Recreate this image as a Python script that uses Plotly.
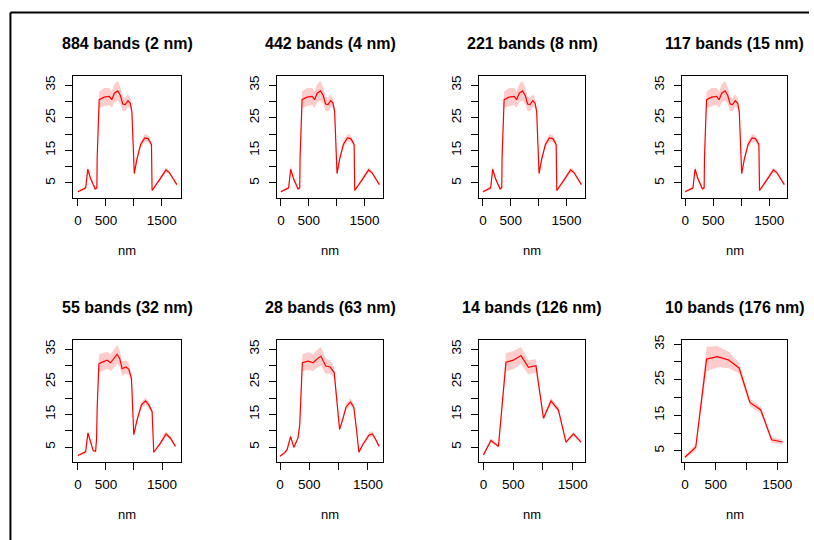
import plotly.graph_objects as go

W, H = 814, 540

titles = ["884 bands (2 nm)", "442 bands (4 nm)", "221 bands (8 nm)", "117 bands (15 nm)",
          "55 bands (32 nm)", "28 bands (63 nm)", "14 bands (126 nm)", "10 bands (176 nm)"]

# Fine-resolution spectra (panels 1-4 look practically identical)
x_fine = [0, 78, 139, 175, 229, 307, 338, 344, 367, 380, 470, 560, 604, 651, 711, 759, 801,
          845, 893, 935, 964, 982, 1007, 1054, 1121, 1193, 1253, 1314, 1325, 1465, 1573, 1633, 1767]
y_fine = [2.3, 3.0, 3.5, 9.2, 6.2, 3.2, 3.5, 12.8, 25.4, 30.5, 31.3, 31.5, 30.5, 32.5, 33.2, 31.8, 29.2,
          29.0, 30.2, 29.5, 26.9, 16.8, 7.9, 12.3, 16.8, 18.8, 18.6, 16.8, 2.7, 6.2, 9.0, 8.2, 4.5]
sd_fine = [0.3, 0.4, 0.5, 1.0, 0.6, 0.4, 0.4, 0.6, 1.5, 2.5, 2.8, 2.6, 2.5, 2.8, 3.0, 2.5, 2.2,
           2.0, 2.0, 1.5, 1.2, 1.0, 0.6, 0.9, 1.0, 1.2, 1.0, 0.8, 0.4, 0.6, 0.8, 0.6, 0.4]

# 55 bands (32 nm)
x_55 = [0, 107, 137, 178, 226, 272, 315, 333, 343, 355, 374, 432, 521, 581, 640, 699, 747, 788,
        859, 907, 955, 979, 996, 1055, 1133, 1205, 1263, 1323, 1353, 1472, 1572, 1651, 1740]
y_55 = [2.4, 3.2, 3.5, 9.3, 6.2, 3.9, 3.7, 7.7, 16.9, 26.0, 30.5, 31.0, 31.6, 30.8, 32.0, 33.4, 32.0, 29.0,
        29.5, 28.8, 26.0, 17.9, 8.8, 13.3, 17.9, 19.1, 17.9, 15.9, 3.4, 6.2, 9.0, 7.7, 5.2]
sd_55 = [0.3, 0.4, 0.5, 0.9, 0.6, 0.4, 0.4, 0.7, 1.5, 2.2, 2.7, 2.8, 2.6, 2.5, 2.8, 2.9, 2.5, 2.2,
         2.0, 1.8, 1.4, 1.0, 0.6, 0.9, 1.0, 1.1, 1.0, 0.8, 0.4, 0.6, 0.8, 0.6, 0.4]

# 28 bands (63 nm)
x_28 = [0, 76, 121, 180, 237, 306, 336, 353, 381, 480, 566, 652, 699, 779, 855, 924, 969, 1016,
        1073, 1125, 1201, 1258, 1305, 1345, 1420, 1519, 1575, 1621, 1690]
y_28 = [2.2, 3.2, 4.2, 8.2, 4.9, 7.7, 11.7, 19.3, 30.8, 31.3, 30.8, 32.3, 32.8, 29.8, 29.5, 27.8, 18.8, 10.4,
        13.7, 17.2, 18.8, 17.2, 10.2, 3.4, 6.0, 8.7, 9.0, 7.7, 5.2]
sd_28 = [0.3, 0.4, 0.5, 0.7, 0.5, 0.6, 0.9, 1.5, 2.6, 2.7, 2.5, 2.8, 2.8, 2.4, 2.0, 1.6, 1.0, 0.6,
         0.8, 1.0, 1.1, 1.0, 0.7, 0.4, 0.6, 0.8, 0.8, 0.6, 0.4]

# 14 bands (126 nm)
x_14 = [0, 126, 252, 378, 504, 630, 756, 882, 1008, 1134, 1260, 1386, 1512, 1638]
y_14 = [2.6, 7.0, 5.2, 31.0, 31.6, 33.0, 29.4, 29.9, 13.8, 19.1, 16.3, 6.5, 9.0, 6.5]
sd_14 = [0.3, 0.6, 0.5, 2.8, 2.8, 2.6, 2.2, 2.0, 0.8, 1.0, 0.9, 0.5, 0.6, 0.5]

# 10 bands (176 nm)
x_10 = [0, 176, 352, 528, 704, 880, 1056, 1232, 1408, 1584]
y_10 = [3.2, 6.0, 30.8, 31.5, 30.6, 28.3, 18.6, 16.5, 8.1, 7.5]
sd_10 = [0.4, 1.0, 3.5, 3.0, 2.3, 1.5, 1.0, 1.0, 0.8, 0.7]

panel_data = [(x_fine, y_fine, sd_fine)] * 4 + [(x_55, y_55, sd_55), (x_28, y_28, sd_28),
                                                  (x_14, y_14, sd_14), (x_10, y_10, sd_10)]

x_ticks = [0, 500, 1000, 1500]
x_ticktext = ["0", "500", "", "1500"]
y_ticks = [5, 10, 15, 20, 25, 30, 35]
y_ticktext = ["5", "", "15", "", "25", "", "35"]

# layout geometry (pixels)
col_px = [(73, 181), (278, 385), (482, 588), (686, 792)]
row_px = [(71, 194), (338, 461)]
x_ranges = [[-80, 1836], [-71, 1835], [-62, 1825], [-58, 1818],
            [-80, 1833], [-52, 1759], [-67, 1700], [-48, 1661]]
y_ranges = [[0.45, 37.7]] * 7 + [[1.9, 36.1]]

FONT = "Liberation Sans, Arial, sans-serif"
fig = go.Figure()
layout = dict(width=W, height=H, margin=dict(l=0, r=0, t=0, b=0),
              paper_bgcolor="white", plot_bgcolor="white", showlegend=False,
              font=dict(family=FONT, color="black", size=13))
annotations = []

for i in range(8):
    r, c = divmod(i, 4)
    x0, x1 = col_px[c]
    y0, y1 = row_px[r]
    n = "" if i == 0 else str(i + 1)
    xa, ya = "x" + n, "y" + n
    xs, ys, sds = panel_data[i]
    upper = [v + s for v, s in zip(ys, sds)]
    lower = [v - s for v, s in zip(ys, sds)]
    fig.add_trace(go.Scatter(x=xs, y=upper, mode="lines", line=dict(width=0, color="rgba(0,0,0,0)"),
                             xaxis=xa, yaxis=ya, hoverinfo="skip"))
    fig.add_trace(go.Scatter(x=xs, y=lower, mode="lines", line=dict(width=0, color="rgba(0,0,0,0)"),
                             fill="tonexty", fillcolor="rgba(255,0,0,0.2)",
                             xaxis=xa, yaxis=ya, hoverinfo="skip"))
    fig.add_trace(go.Scatter(x=xs, y=ys, mode="lines", line=dict(width=1.2, color="#ff0000"),
                             xaxis=xa, yaxis=ya))
    layout["xaxis" + n] = dict(domain=[x0 / W, x1 / W], anchor=ya, range=x_ranges[i],
                               tickvals=x_ticks, ticktext=x_ticktext, ticks="outside", ticklen=7,
                               tickcolor="black", showline=True, linecolor="black", linewidth=1,
                               mirror=True, showgrid=False, zeroline=False, tickangle=0,
                               ticklabelstandoff=3, tickfont=dict(size=13.5, family=FONT))
    layout["yaxis" + n] = dict(domain=[1 - y1 / H, 1 - y0 / H], anchor=xa, range=y_ranges[i],
                               tickvals=y_ticks, ticktext=y_ticktext, ticks="outside", ticklen=7,
                               tickcolor="black", showline=True, linecolor="black", linewidth=1,
                               mirror=True, showgrid=False, zeroline=False, tickangle=-90,
                               ticklabelstandoff=5, tickfont=dict(size=13.5, family=FONT))
    cx = (x0 + x1) / 2 / W
    annotations.append(dict(text="<b>" + titles[i] + "</b>", x=cx, y=1 - (y0 - 33) / H,
                            xref="paper", yref="paper", showarrow=False, xanchor="center",
                            yanchor="middle", font=dict(size=16, family=FONT, color="black")))
    annotations.append(dict(text="nm", x=cx, y=1 - (y1 + 53) / H, xref="paper", yref="paper",
                            showarrow=False, xanchor="center", yanchor="middle",
                            font=dict(size=13, family=FONT, color="black")))

layout["annotations"] = annotations
layout["shapes"] = [
    dict(type="line", xref="paper", yref="paper", x0=9.5 / W, x1=1, y0=1 - 6.5 / H, y1=1 - 6.5 / H,
         line=dict(color="black", width=2)),
    dict(type="line", xref="paper", yref="paper", x0=9.5 / W, x1=9.5 / W, y0=0, y1=1 - 6.5 / H,
         line=dict(color="black", width=2)),
]
fig.update_layout(**layout)
fig.write_html("out.html")
